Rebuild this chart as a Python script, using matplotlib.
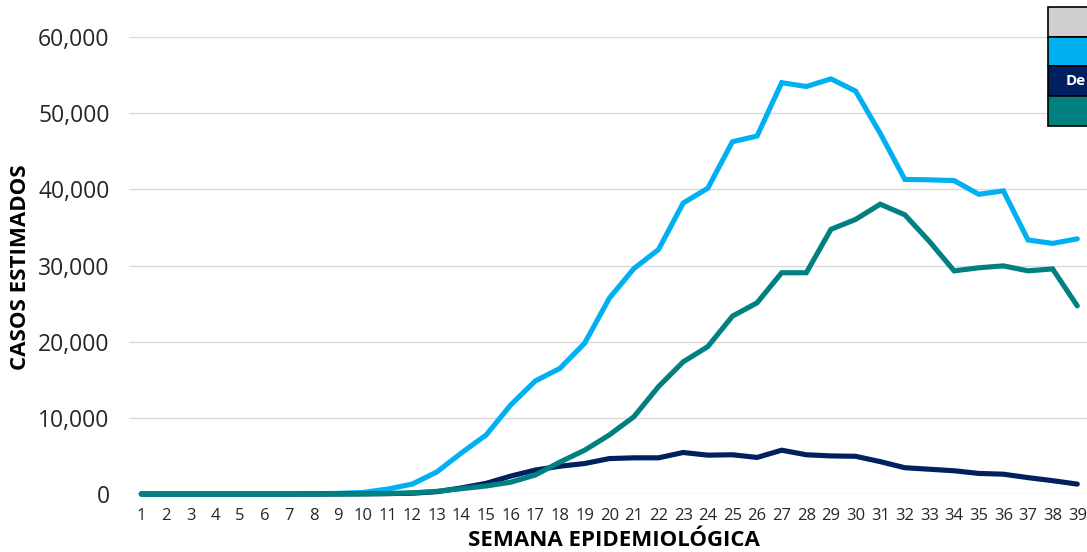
import matplotlib
matplotlib.use("Agg")
import matplotlib.pyplot as plt
from matplotlib.patches import Rectangle

weeks = list(range(1, 40))
serie_celeste = [0, 0, 0, 0, 0, 0, 0, 30, 80, 200, 650, 1300, 2900, 5400, 7750,
                 11700, 14850, 16500, 19800, 25700, 29600, 32100, 38200, 40150, 46250,
                 47000, 54000, 53500, 54500, 52900, 47350, 41300, 41250, 41150, 39350,
                 39800, 33350, 32900, 33500]
serie_marino = [0, 0, 0, 0, 0, 0, 0, 0, 0, 20, 50, 100, 300, 800, 1400,
                2350, 3150, 3650, 4000, 4650, 4750, 4750, 5450, 5100, 5150,
                4800, 5750, 5150, 5000, 4950, 4250, 3450, 3250, 3050, 2700,
                2600, 2150, 1750, 1300]
serie_verde = [0, 0, 0, 0, 0, 0, 0, 0, 0, 20, 60, 150, 350, 700, 1050,
               1550, 2500, 4200, 5750, 7750, 10150, 14100, 17350, 19350, 23350,
               25100, 29050, 29050, 34750, 36050, 38050, 36650, 33150, 29300, 29700,
               29950, 29300, 29550, 24700]
y_ticks = [0, 10000, 20000, 30000, 40000, 50000, 60000]
legend_colors = ["#d0cece", "#00b0f0", "#002060", "#008080"]

W, H = 1087, 552
fig = plt.figure(figsize=(W / 100, H / 100), dpi=100)
fig.patch.set_facecolor("white")
ax_l, ax_b, ax_w, ax_h = 129, 494, W - 129, 457
ax = fig.add_axes([ax_l / W, (H - ax_b) / H, ax_w / W, ax_h / H])

for vals, col, z in [(serie_celeste, "#00b0f0", 3), (serie_marino, "#002060", 4), (serie_verde, "#008080", 5)]:
    ax.plot(weeks, vals, color=col, lw=3.7, solid_capstyle="round",
            solid_joinstyle="miter", clip_on=False, zorder=z)

ax.set_xlim(0.5, 0.5 + ax_w / 24.63)
ax.set_ylim(0, 60000)
ax.set_yticks(y_ticks)
ax.set_yticklabels([f"{v:,}" for v in y_ticks], fontsize=16.5, family="Open Sans", color="#262626")
ax.set_xticks(weeks)
ax.set_xticklabels([str(w) for w in weeks], fontsize=12, family="Open Sans", color="#262626")
ax.tick_params(axis="both", length=0)
ax.tick_params(axis="x", pad=10)
ax.tick_params(axis="y", pad=14)
for s in ax.spines.values():
    s.set_visible(False)
ax.grid(axis="y", color="#d9d9d9", lw=1)
ax.set_axisbelow(True)

ax.set_xlabel("SEMANA EPIDEMIOLÓGICA", fontsize=16, fontweight="bold", family="Open Sans",
              color="black", va="center", ha="center")
ax.xaxis.set_label_coords((614 - ax_l) / ax_w, (ax_b - 541) / ax_h)
ax.set_ylabel("CASOS ESTIMADOS", fontsize=16, fontweight="bold", family="Open Sans",
              color="black", va="center", ha="center")
ax.yaxis.set_label_coords((20.5 - ax_l) / ax_w, (ax_b - 267.5) / ax_h)

# Legend table (cut at the right edge in the reference)
rows = [(7, 37), (37, 66), (66, 96), (96, 126)]
for (top, bot), c in zip(rows, legend_colors):
    fig.add_artist(Rectangle((1048 / W, (H - bot) / H), 60 / W, (bot - top) / H,
                             transform=fig.transFigure, facecolor=c, edgecolor="black",
                             lw=1.2, clip_on=False))
fig.text(1066 / W, (H - 81) / H, "De", color="white", fontsize=11, fontweight="bold",
         family="Open Sans", va="center", ha="left")

fig.savefig("out.png", dpi=100, facecolor="white")
